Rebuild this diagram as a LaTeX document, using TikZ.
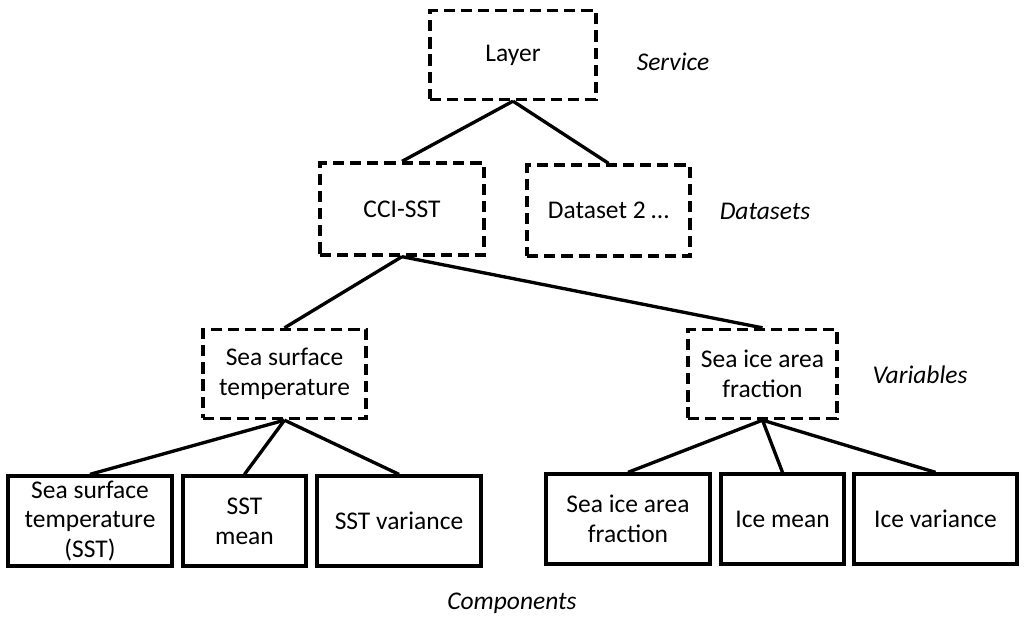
\documentclass[tikz,border=0pt]{standalone}
\usepackage{fontspec}
\setmainfont{Carlito}
\tikzset{
  dashbox/.style={draw, dash pattern=on 6.4pt off 3.4pt, line width=1.9pt, align=center, inner sep=0pt},
  solidbox/.style={draw, line width=1.9pt, align=center, inner sep=0pt},
  tier/.style={font=\fontsize{14.5}{17}\selectfont\itshape},
  link/.style={line width=1.9pt}
}
\begin{document}
\begin{tikzpicture}[x=0.02cm, y=-0.02cm, font=\fontsize{14.5}{17}\selectfont]
	\useasboundingbox (0,0) rectangle (1024,622);
	% service and datasets
	\node[dashbox, minimum width=3.32cm, minimum height=1.78cm] (layer) at (513,55) {Layer};
	\node[dashbox, minimum width=3.28cm, minimum height=1.84cm] (cci) at (402,209) {CCI-SST};
	\node[dashbox, minimum width=3.26cm, minimum height=1.82cm] (ds2) at (608.5,210.5) {Dataset 2 \dots};
	% variables
	\node[dashbox, minimum width=3.26cm, minimum height=1.78cm] (sstvar) at (284.5,374) {Sea surface\\temperature};
	\node[dashbox, minimum width=2.98cm, minimum height=1.78cm] (icevar) at (762.5,374) {Sea ice area\\fraction};
	% components
	\node[solidbox, minimum width=3.28cm, minimum height=1.80cm] (sstcomp) at (90,521) {Sea surface\\temperature\\(SST)};
	\node[solidbox, minimum width=2.46cm, minimum height=1.80cm] (sstmean) at (244.5,521) {SST\\mean};
	\node[solidbox, minimum width=3.28cm, minimum height=1.80cm] (sstvarc) at (399,521) {SST variance};
	\node[solidbox, minimum width=3.28cm, minimum height=1.80cm] (icecomp) at (628,519) {Sea ice area\\fraction};
	\node[solidbox, minimum width=2.46cm, minimum height=1.80cm] (icemean) at (782.5,519) {Ice mean};
	\node[solidbox, minimum width=3.26cm, minimum height=1.80cm] (icevarc) at (935.5,519) {Ice variance};
	% tier labels
	\node[tier] (service) at (673,62) {Service};
	\node[tier] (datasets) at (765,211) {Datasets};
	\node[tier] (variables) at (920,375) {Variables};
	\node[tier] (components) at (512,603) {Components};
	% links
	\draw[link] (layer.south) -- (cci.north);
	\draw[link] (layer.south) -- (ds2.north);
	\draw[link] (cci.south) -- (sstvar.north);
	\draw[link] (cci.south) -- (icevar.north);
	\foreach \c in {sstcomp,sstmean,sstvarc}{\draw[link] (sstvar.south) -- (\c.north);}
	\foreach \c in {icecomp,icemean,icevarc}{\draw[link] (icevar.south) -- (\c.north);}
\end{tikzpicture}
\end{document}
